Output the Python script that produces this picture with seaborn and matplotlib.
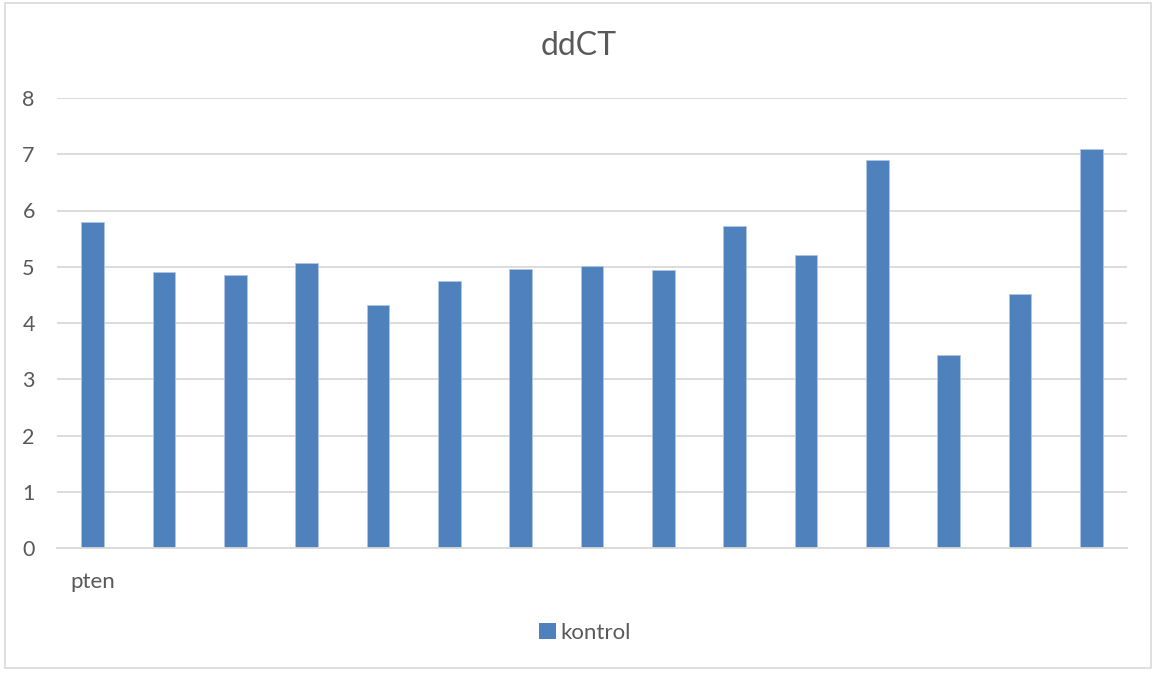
import matplotlib
matplotlib.use("Agg")
import matplotlib.pyplot as plt
import seaborn as sns
import pandas as pd
from matplotlib.patches import Rectangle, Patch

# ---- data ----
categories = ["pten"] + [""] * 14
kontrol = [5.80, 4.90, 4.86, 5.06, 4.32, 4.75, 4.96, 5.01, 4.94, 5.73, 5.21, 6.89, 3.43, 4.51, 7.10]
series_name = "kontrol"
title = "ddCT"
yticks = [0, 1, 2, 3, 4, 5, 6, 7, 8]

sns.set_style("white")
plt.rcParams['font.family'] = ['Lato', 'DejaVu Sans']

W, H = 1157, 675
fig = plt.figure(figsize=(W / 100, H / 100), dpi=100)
fig.patch.set_facecolor("white")

# outer chart border
fig.add_artist(Rectangle((5 / W, 7 / H), 1146 / W, 665 / H, transform=fig.transFigure,
                         fill=False, edgecolor="#D9D9D9", linewidth=1.2))

ax = fig.add_axes([57 / W, (H - 548) / H, 1070 / W, 450 / H])

df = pd.DataFrame({"idx": [f"c{i}" for i in range(len(kontrol))], "value": kontrol})
sns.barplot(data=df, x="idx", y="value", color="#4F81BD", width=0.32, saturation=1,
            ax=ax, edgecolor="#AFC6E3", linewidth=0.6)

ax.set_xlim(-0.5, len(kontrol) - 0.5)
ax.set_ylim(0, 8)
ax.set_yticks(yticks)
ax.set_yticklabels([str(t) for t in yticks])
ax.set_xticks(range(len(categories)))
ax.set_xticklabels(categories)
ax.set_xlabel("")
ax.set_ylabel("")

ax.yaxis.grid(True, color="#D9D9D9", linewidth=1.3)
ax.set_axisbelow(True)
for s in ["top", "right", "left"]:
    ax.spines[s].set_visible(False)
ax.spines["bottom"].set_color("#D9D9D9")
ax.spines["bottom"].set_linewidth(1.3)
ax.tick_params(axis="y", length=0, pad=16, labelsize=15.5, labelcolor="#595959")
ax.tick_params(axis="x", length=0, pad=17, labelsize=16, labelcolor="#595959")

fig.text(0.5, (H - 46) / H, title, ha="center", va="center", fontsize=23, color="#595959")

handle = Patch(facecolor="#4F81BD", edgecolor="none")
fig.legend([handle], [series_name], loc="center", bbox_to_anchor=(585 / W, (H - 633) / H),
           frameon=False, fontsize=16, labelcolor="#595959", handlelength=0.75, handleheight=0.75,
           handletextpad=0.2)

fig.savefig("out.png", dpi=100, facecolor="white")
